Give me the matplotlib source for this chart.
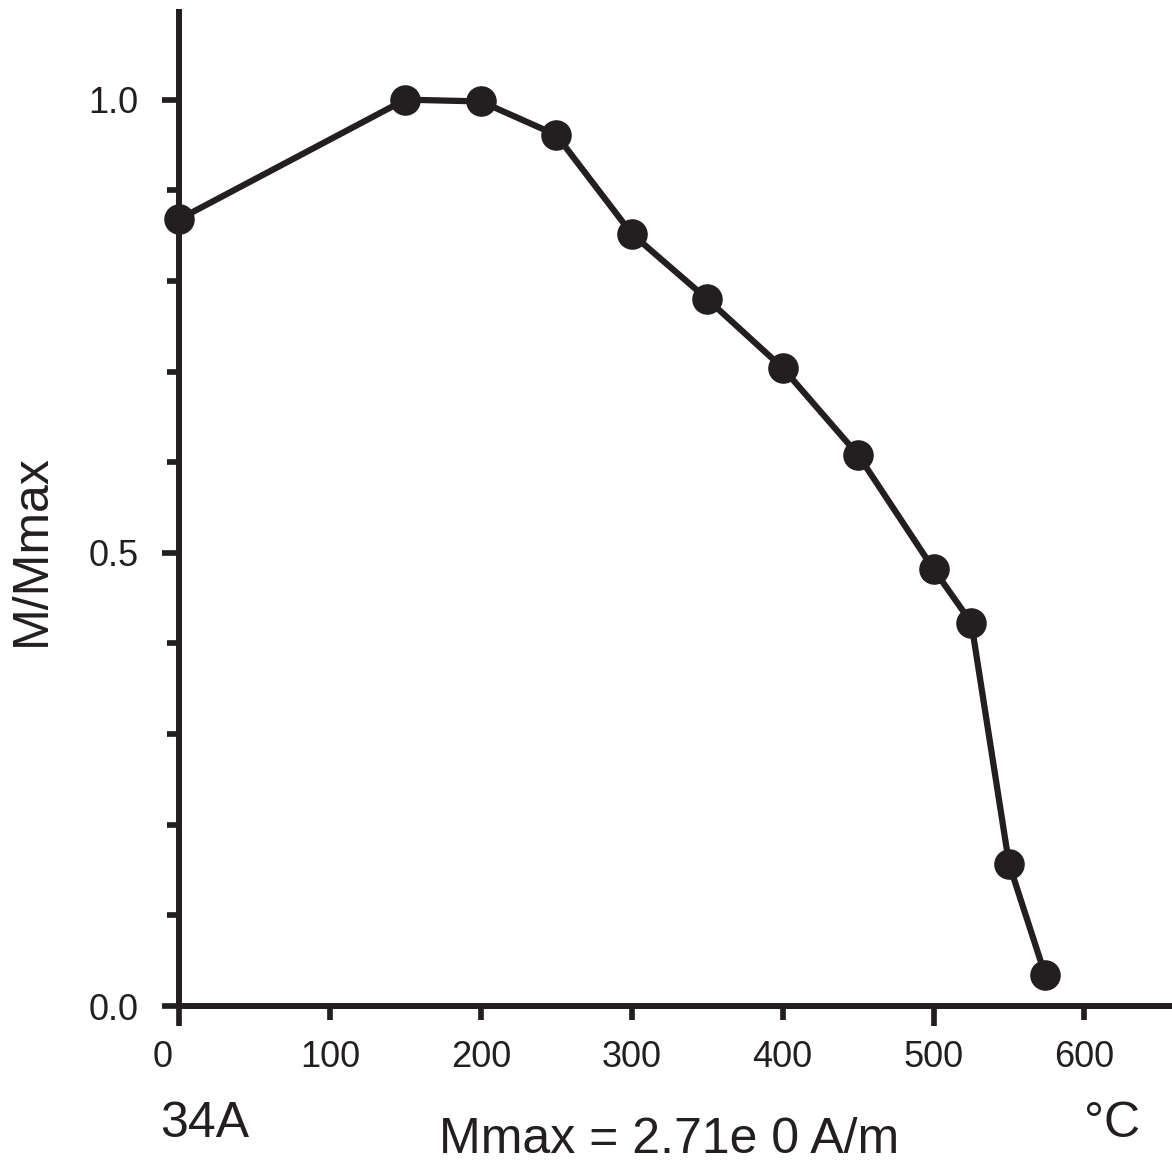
import matplotlib
matplotlib.use("Agg")
import matplotlib.pyplot as plt
import matplotlib.transforms as mtransforms
from matplotlib.ticker import FixedLocator, FixedFormatter

# temperature (deg C) and normalised magnetisation
temperature = [0, 150, 200, 250, 300, 350, 400, 450, 500, 525, 550, 574]
m_norm = [0.868, 1.0, 0.998, 0.961, 0.852, 0.780, 0.704, 0.608, 0.482, 0.423, 0.157, 0.034]

x_major = [0, 500]
x_minor = [100, 200, 300, 400, 600]
y_major = [0.0, 0.5, 1.0]
y_minor = [0.1, 0.2, 0.3, 0.4, 0.6, 0.7, 0.8, 0.9]

sample_name = "34A"
mmax_label = "Mmax = 2.71e 0 A/m"
unit_label = "°C"

INK = "#231f20"
W, H = 1172, 1162
plt.rcParams["font.family"] = ["Liberation Sans", "DejaVu Sans"]

fig = plt.figure(figsize=(W / 100, H / 100), dpi=100)
ax = fig.add_axes([179 / W, 156 / H, 1 - 179 / W, (1006 - 9) / H])

ax.plot(temperature, m_norm, color=INK, linewidth=4.5, marker="o",
        markersize=21, markerfacecolor=INK, markeredgecolor=INK,
        clip_on=False, zorder=3)

ax.set_xlim(0, 658)
ax.set_ylim(0, 1.10)

for side in ("top", "right"):
    ax.spines[side].set_visible(False)
for side in ("left", "bottom"):
    ax.spines[side].set_color(INK)
    ax.spines[side].set_linewidth(4.3)
    ax.spines[side].set_capstyle("butt")

ax.xaxis.set_major_locator(FixedLocator(x_major))
ax.xaxis.set_major_formatter(FixedFormatter([str(v) for v in x_major]))
ax.xaxis.set_minor_locator(FixedLocator(x_minor))
ax.xaxis.set_minor_formatter(FixedFormatter([str(v) for v in x_minor]))
ax.yaxis.set_major_locator(FixedLocator(y_major))
ax.yaxis.set_major_formatter(FixedFormatter([f"{v:.1f}" for v in y_major]))
ax.yaxis.set_minor_locator(FixedLocator(y_minor))

ax.tick_params(axis="x", which="major", length=14.4, width=4.1, pad=10,
               color=INK, labelsize=26, labelcolor=INK)
ax.tick_params(axis="x", which="minor", length=10, width=4.1, pad=14.4,
               color=INK, labelsize=26, labelcolor=INK)
ax.tick_params(axis="y", which="major", length=12.2, width=4.1, pad=17,
               color=INK, labelsize=26, labelcolor=INK)
ax.tick_params(axis="y", which="minor", length=8.6, width=4.1,
               color=INK, labelleft=False)

# the "0" label sits a little left of its tick in the original
shift = mtransforms.ScaledTranslation(-16 / 100, 0, fig.dpi_scale_trans)
first = ax.xaxis.get_major_ticks()[0].label1
first.set_transform(first.get_transform() + shift)

fig.text(32 / W, 1 - 550 / H, "M/Mmax", rotation=90, ha="center",
         va="center", fontsize=36, color=INK)
fig.text(160 / W, 1 - 1137 / H, sample_name, ha="left", va="baseline",
         fontsize=36, color=INK)
fig.text(669 / W, 1 - 1153 / H, mmax_label, ha="center", va="baseline",
         fontsize=36, color=INK)
fig.text(1140 / W, 1 - 1137 / H, unit_label, ha="right", va="baseline",
         fontsize=36, color=INK)

fig.savefig("out.png", dpi=100)
